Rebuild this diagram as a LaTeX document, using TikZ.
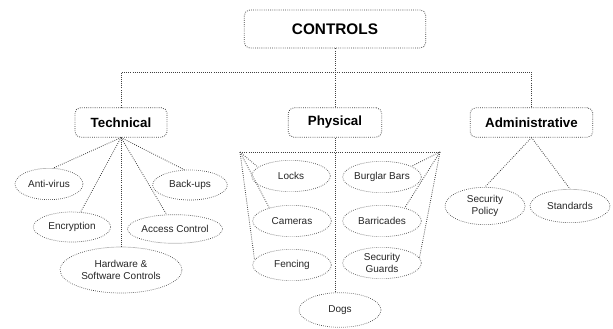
\documentclass[tikz,border=0pt]{standalone}
\usepackage{fontspec}
\setmainfont{Liberation Sans}
\usetikzlibrary{shapes.geometric}
\begin{document}
\begin{tikzpicture}[x=0.75pt,y=-0.75pt,
  line/.style={densely dotted, line width=0.6pt, black!75},
  head/.style={draw, densely dotted, line width=0.6pt, black!75, rounded corners=4pt, text=black, font=\bfseries\fontsize{10}{12}\selectfont, inner sep=0pt, minimum height=22pt},
  leaf/.style={ellipse, draw, densely dotted, line width=0.5pt, black!75, text=black!85, font=\fontsize{7.5}{8.5}\selectfont, align=center, inner sep=0pt, minimum width=59pt, minimum height=23.5pt}]
\useasboundingbox (0,0) rectangle (613,328);
\node[head, minimum width=136pt, minimum height=28.5pt, font=\bfseries\fontsize{11.5}{13}\selectfont] (ctl) at (335,29){CONTROLS};
\node[head, minimum width=69pt] (tech) at (121,122.5){Technical};
\node[head, minimum width=70pt] (phys) at (335,122.5){Physical};
\node[head, minimum width=92pt] (admin) at (531.5,122.5){Administrative};
\coordinate (bus) at (335,72);
\draw[line](ctl.south) -- (phys.north);
\draw[line](tech.north) -- (tech.north |- bus) -- (admin.north |- bus) -- (admin.north);
\node[leaf, minimum width=51pt] (antivirus) at (49,184){Anti-virus};
\node[leaf, minimum width=56pt, minimum height=22.5pt] (backups) at (190,185){Back-ups};
\node[leaf, minimum width=58pt, minimum height=22.5pt] (encrypt) at (72,227){Encryption};
\node[leaf, minimum width=57pt, minimum height=21.5pt] (access) at (175,229){Access Control};
\node[leaf, minimum width=91.5pt, minimum height=34.5pt] (hwsw) at (121,270){Hardware \&\\Software Controls};
\draw[line](tech.south) -- (antivirus.75);
\draw[line](tech.south) -- (encrypt.60);
\draw[line](tech.south) -- (hwsw.north);
\draw[line](tech.south) -- (access.120);
\draw[line](tech.south) -- (backups.110);
\node[leaf] (locks) at (291,176){Locks};
\node[leaf] (cameras) at (292,221){Cameras};
\node[leaf] (fencing) at (292,265){Fencing};
\node[leaf] (bars) at (382,177){Burglar Bars};
\node[leaf] (barric) at (382,221){Barricades};
\node[leaf] (guards) at (382,263){Security\\Guards};
\node[leaf, minimum width=61.5pt, minimum height=26pt] (dogs) at (340,310){Dogs};
\coordinate (brl) at (240,152);
\coordinate (brr) at (440,152);
\draw[line](brl) -- (brr);
\draw[line](phys.south) -- (phys.south |- dogs.north);
\draw[line](brl) -- (locks.165);
\draw[line](brl) -- (cameras.150);
\draw[line](brl) -- (fencing.172);
\draw[line](brr) -- (bars.20);
\draw[line](brr) -- (barric.30);
\draw[line](brr) -- (guards.8);
\node[leaf, minimum width=60pt, minimum height=28pt] (secpol) at (485,206){Security\\Policy};
\node[leaf, minimum width=60pt, minimum height=25pt] (stds) at (570,206){Standards};
\draw[line](admin.south) -- (secpol.north);
\draw[line](admin.south) -- (stds.north);
\end{tikzpicture}
\end{document}
